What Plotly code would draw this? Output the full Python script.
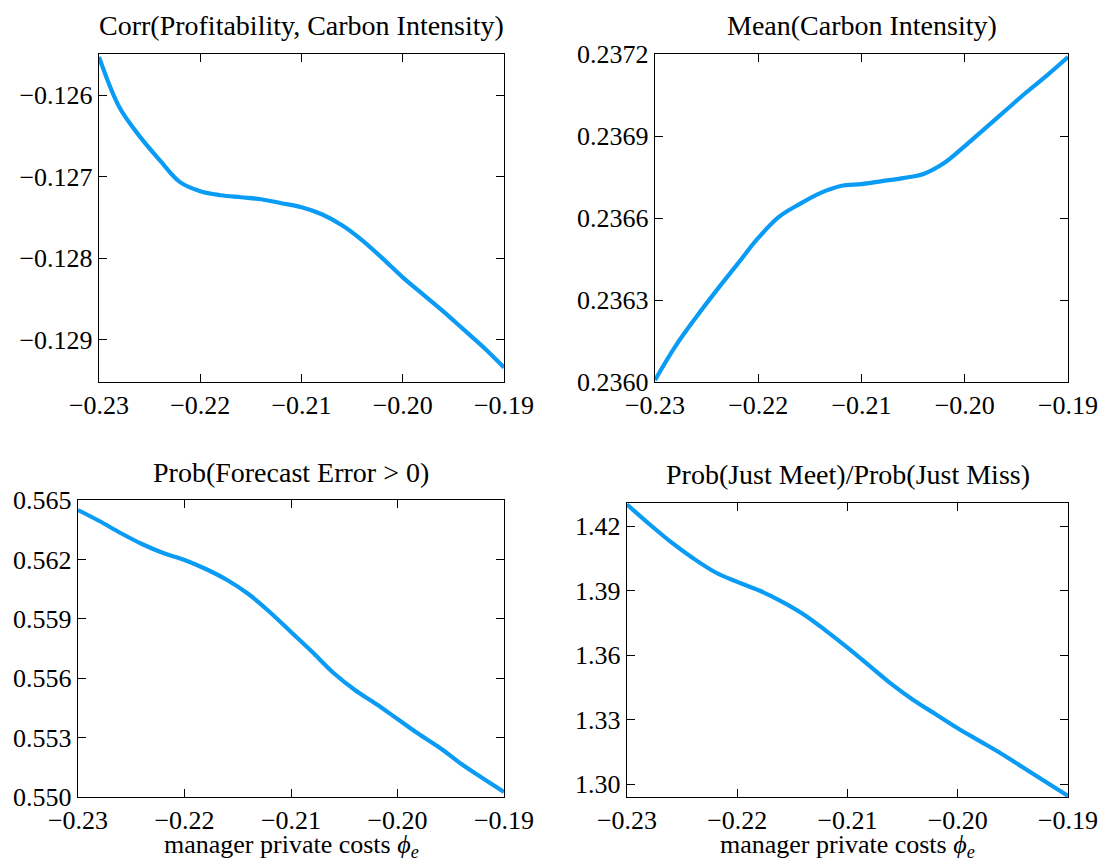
import plotly.graph_objects as go

# x grid: manager private costs phi_e
phi = [-0.230, -0.228, -0.226, -0.224, -0.222, -0.220, -0.218, -0.216, -0.214, -0.212, -0.210,
       -0.208, -0.206, -0.204, -0.202, -0.200, -0.198, -0.196, -0.194, -0.192, -0.190]

corr_prof_ci = [-0.125534, -0.126147, -0.126503, -0.126798, -0.127067, -0.127178, -0.127227,
                -0.127252, -0.127276, -0.127325, -0.127374, -0.127460, -0.127595, -0.127779,
                -0.128000, -0.128233, -0.128442, -0.128650, -0.128871, -0.129092, -0.129337]

mean_ci = [0.236007, 0.236132, 0.236238, 0.236337, 0.236432, 0.236527, 0.236604, 0.236651,
           0.236691, 0.236717, 0.236724, 0.236735, 0.236746, 0.236761, 0.236801, 0.236863,
           0.236929, 0.236995, 0.237061, 0.237123, 0.237189]

prob_fe_pos = [0.564495, 0.563939, 0.563333, 0.562778, 0.562323, 0.561970, 0.561515, 0.560960,
               0.560253, 0.559343, 0.558333, 0.557323, 0.556263, 0.555404, 0.554697, 0.553939,
               0.553182, 0.552475, 0.551667, 0.550950, 0.550250]

meet_miss_ratio = [1.4300, 1.4210, 1.4125, 1.4050, 1.3985, 1.3940, 1.3900, 1.3850, 1.3790,
                   1.3715, 1.3635, 1.3550, 1.3465, 1.3390, 1.3325, 1.3260, 1.3200, 1.3140,
                   1.3075, 1.3010, 1.2945]

titles = ["Corr(Profitability, Carbon Intensity)", "Mean(Carbon Intensity)",
          "Prob(Forecast Error > 0)", "Prob(Just Meet)/Prob(Just Miss)"]

x_ticks = [-0.23, -0.22, -0.21, -0.20, -0.19]
y_ticks = [
    [-0.129, -0.128, -0.127, -0.126],
    [0.2360, 0.2363, 0.2366, 0.2369, 0.2372],
    [0.550, 0.553, 0.556, 0.559, 0.562, 0.565],
    [1.30, 1.33, 1.36, 1.39, 1.42],
]
y_ranges = [
    [-0.129515, -0.125497],
    [0.2360, 0.2372],
    [0.550, 0.565],
    [1.2940, 1.4307],
]
y_formats = [".3f", ".4f", ".3f", ".2f"]
series = [corr_prof_ci, mean_ci, prob_fe_pos, meet_miss_ratio]

W, H = 1103, 859
# panel frames in pixels: (left, right, top, bottom)
frames = [(99, 504, 54, 382), (655, 1068, 54, 382), (78, 504, 500, 797), (627, 1068, 503, 797)]

FONT = "Liberation Serif"
BLUE = "#0a9bf5"

fig = go.Figure()
layout = dict(
    width=W, height=H, margin=dict(l=0, r=0, t=0, b=0, pad=0, autoexpand=False),
    paper_bgcolor="white", plot_bgcolor="white", showlegend=False,
    font=dict(family=FONT, size=26, color="black"),
)
annotations = []
for i, (ys, fr) in enumerate(zip(series, frames)):
    n = "" if i == 0 else str(i + 1)
    l, r, t, b = fr
    xd = [l / W, r / W]
    yd = [1 - b / H, 1 - t / H]
    fig.add_trace(go.Scatter(x=phi, y=ys, mode="lines", line=dict(color=BLUE, width=4.2),
                             line_shape="spline", xaxis="x" + n, yaxis="y" + n))
    axcommon = dict(showline=True, mirror="ticks", linecolor="black", linewidth=1.4,
                    ticks="inside", ticklen=8, tickwidth=1.4, tickcolor="black",
                    showgrid=False, zeroline=False, automargin=False,
                    tickfont=dict(family=FONT, size=26, color="black"))
    layout["xaxis" + n] = dict(axcommon, domain=xd, range=[-0.23, -0.19], tickvals=x_ticks,
                               tickformat=".2f", anchor="y" + n)
    layout["yaxis" + n] = dict(axcommon, domain=yd, range=y_ranges[i], tickvals=y_ticks[i],
                               tickformat=y_formats[i], anchor="x" + n)
    annotations.append(dict(text=titles[i], x=(l + r) / 2 / W, y=1 - (t - 28) / H,
                            xref="paper", yref="paper", xanchor="center", yanchor="middle",
                            showarrow=False, font=dict(family=FONT, size=28, color="black")))
    if i >= 2:
        annotations.append(dict(text="manager private costs <i>ϕ</i><sub><i>e</i></sub>",
                                x=(l + r) / 2 / W, y=1 - 846 / H,
                                xref="paper", yref="paper", xanchor="center", yanchor="middle",
                                showarrow=False, font=dict(family=FONT, size=26, color="black")))
layout["annotations"] = annotations
fig.update_layout(**layout)
fig.write_html("out.html")
